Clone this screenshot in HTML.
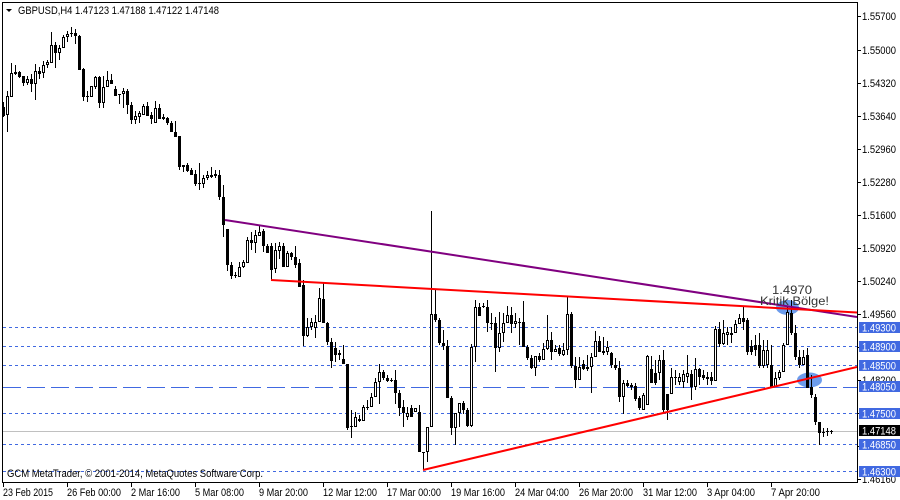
<!DOCTYPE html>
<html>
<head>
<meta charset="utf-8">
<style>
html,body{margin:0;padding:0;background:#fff;}
svg{display:block;}
text{font-family:"Liberation Sans",Arial,sans-serif;}
</style>
</head>
<body>
<svg width="900" height="500" viewBox="0 0 900 500" xmlns="http://www.w3.org/2000/svg">
<rect x="0" y="0" width="900" height="500" fill="#fff"/>
<defs><clipPath id="cl"><rect x="3" y="3" width="854" height="479"/></clipPath></defs>

<ellipse cx="787.5" cy="307.5" rx="11.5" ry="7.5" fill="#6c9cec"/>
<ellipse cx="809.5" cy="380" rx="12.5" ry="7.5" fill="#6c9cec"/>

<g stroke="#4169e1" stroke-width="1" fill="none">
<line x1="3" y1="327.5" x2="857" y2="327.5" stroke-dasharray="3,3"/>
<line x1="3" y1="346.5" x2="857" y2="346.5" stroke-dasharray="3,3"/>
<line x1="3" y1="365.5" x2="857" y2="365.5" stroke-dasharray="3,3"/>
<line x1="3" y1="387.5" x2="857" y2="387.5" stroke-dasharray="18,6"/>
<line x1="3" y1="413.5" x2="857" y2="413.5" stroke-dasharray="3,3"/>
<line x1="3" y1="444.5" x2="857" y2="444.5" stroke-dasharray="3,3"/>
<line x1="3" y1="471.5" x2="857" y2="471.5" stroke-dasharray="3,3"/>
</g>
<line x1="3" y1="431.5" x2="857" y2="431.5" stroke="#c0c0c0" stroke-width="1"/>

<g clip-path="url(#cl)" fill="none" shape-rendering="crispEdges">
<path stroke="#000" stroke-width="1" d="M3.5 102V117M7.5 91V132M11.5 63V97M15.5 65V75M19.5 71V78M23.5 76V86M27.5 76V85M31.5 74V92M35.5 64V100M39.5 67V79M43.5 61V78M47.5 60V68M51.5 32V63M55.5 42V68M59.5 45V60M63.5 35V48M67.5 31V42M71.5 27V37M75.5 29V44M79.5 35V70M83.5 68V101M87.5 91V102M91.5 86V97M95.5 76V89M99.5 76V108M103.5 76V108M107.5 71V87M111.5 74V84M115.5 86V96M119.5 94V104M123.5 88V108M127.5 89V114M131.5 102V124M135.5 111V124M139.5 111V123M143.5 104V115M147.5 102V116M151.5 112V124M155.5 101V123M159.5 104V119M163.5 114V120M167.5 117V125M171.5 121V132M175.5 121V137M179.5 136V170M183.5 165V172M187.5 163V172M191.5 168V175M195.5 170V186M199.5 163V190M203.5 175V188M207.5 171V180M211.5 167V178M215.5 170V178M219.5 170V200M223.5 185V237M227.5 229V271M231.5 262V279M235.5 272V278M239.5 262V277M243.5 260V268M247.5 237V263M251.5 232V250M255.5 230V253M259.5 226V236M263.5 229V252M267.5 244V253M271.5 243V280M275.5 243V273M279.5 242V259M283.5 243V267M287.5 251V267M291.5 252V260M295.5 246V268M299.5 259V287M303.5 280V346M307.5 318V337M311.5 318V330M315.5 315V338M319.5 288V322M323.5 282V323M327.5 322V345M331.5 338V368M335.5 342V362M339.5 350V360M343.5 345V364M347.5 364V430M351.5 410V438M355.5 412V427M359.5 415V422M363.5 405V421M367.5 400V410M371.5 393V407M375.5 378V397M379.5 364V404M383.5 370V380M387.5 375V382M391.5 378V382M395.5 370V404M399.5 390V416M403.5 400V427M407.5 407V420M411.5 405V417M415.5 408V412M419.5 405V452M423.5 452V470M427.5 427V462M431.5 211V427M435.5 290V322M439.5 318V345M443.5 330V350M447.5 340V398M451.5 396V435M455.5 413V445M459.5 403V427M463.5 401V414M467.5 408V427M471.5 344V427M475.5 300V362M479.5 303V316M483.5 303V308M487.5 300V332M491.5 313V330M495.5 317V372M499.5 312V352M503.5 313V342M507.5 306V323M511.5 307V333M515.5 313V328M519.5 318V345M523.5 301V347M527.5 345V360M531.5 355V369M535.5 356V376M539.5 353V362M543.5 343V360M547.5 315V350M551.5 332V360M555.5 345V352M559.5 345V356M563.5 343V356M567.5 296V355M571.5 312V368M575.5 357V388M579.5 357V380M583.5 360V370M587.5 355V371M591.5 353V393M595.5 331V357M599.5 336V352M603.5 337V355M607.5 341V355M611.5 352V368M615.5 358V370M619.5 361V402M623.5 380V414M627.5 380V387M631.5 383V390M635.5 383V401M639.5 396V410M643.5 393V410M647.5 355V405M651.5 356V383M655.5 360V385M659.5 355V380M663.5 350V413M667.5 394V420M671.5 368V394M675.5 370V385M679.5 373V385M683.5 370V388M687.5 355V383M691.5 370V400M695.5 358V390M699.5 368V385M703.5 370V380M707.5 372V385M711.5 372V385M715.5 326V381M719.5 322V347M723.5 320V345M727.5 327V345M731.5 327V343M735.5 320V333M739.5 314V324M743.5 306V330M747.5 318V355M751.5 340V355M755.5 335V356M759.5 333V368M763.5 340V368M767.5 340V368M771.5 345V387M775.5 372V387M779.5 370V380M783.5 343V372M787.5 306V345M791.5 300V335M795.5 325V360M799.5 350V368M803.5 350V365M807.5 348V388M811.5 375V398M815.5 394V425M819.5 422V445M823.5 428V437M827.5 428V436M831.5 430V434"/>
<path stroke="#000" stroke-width="3" d="M3.5 107V116M7.5 96V115M11.5 73V97M15.5 72V74M19.5 72V77M23.5 76V83M27.5 79V83M31.5 79V84M35.5 71V84M39.5 71V74M43.5 65V73M47.5 62V65M51.5 45V63M55.5 45V53M59.5 48V53M63.5 37V48M67.5 34V37M71.5 33V34M75.5 33V36M79.5 36V70M83.5 69V97M87.5 96V97M91.5 86V97M95.5 77V87M99.5 77V103M103.5 87V103M107.5 80V87M111.5 80V84M115.5 89V96M119.5 94V95M123.5 91V94M127.5 91V105M131.5 105V120M135.5 116V120M139.5 113V117M143.5 106V115M147.5 106V116M151.5 115V119M155.5 108V123M159.5 108V119M163.5 117V119M167.5 118V123M171.5 123V132M175.5 132V137M179.5 136V167M183.5 165V167M187.5 165V171M191.5 170V175M195.5 174V184M199.5 183V184M203.5 178V184M207.5 175V178M211.5 175V177M215.5 174V176M219.5 175V197M223.5 197V225M227.5 229V265M231.5 265V276M235.5 275V276M239.5 267V277M243.5 262V267M247.5 240V263M251.5 240V243M255.5 235V243M259.5 232V236M263.5 231V246M267.5 246V253M271.5 246V270M275.5 250V269M279.5 246V251M283.5 246V267M287.5 253V267M291.5 253V257M295.5 257V265M299.5 263V287M303.5 285V336M307.5 327V336M311.5 322V327M315.5 322V328M319.5 298V322M323.5 299V323M327.5 323V342M331.5 342V361M335.5 348V355M339.5 353V355M343.5 359V364M347.5 364V428M351.5 426V427M355.5 417V427M359.5 419V421M363.5 407V421M367.5 407V408M371.5 397V407M375.5 382V397M379.5 372V382M383.5 372V378M387.5 378V381M391.5 380V381M395.5 380V393M399.5 393V408M403.5 407V413M407.5 413V417M411.5 408V417M415.5 408V412M419.5 412V452M423.5 452V453M427.5 427V452M431.5 314V427M435.5 314V320M439.5 320V343M443.5 343V346M447.5 346V398M451.5 398V428M455.5 413V428M459.5 403V413M463.5 403V410M467.5 410V426M471.5 347V426M475.5 307V347M479.5 307V316M483.5 306V307M487.5 307V323M491.5 323V324M495.5 323V348M499.5 333V348M503.5 323V333M507.5 315V323M511.5 315V324M515.5 321V324M519.5 322V323M523.5 322V347M527.5 347V358M531.5 358V368M535.5 356V368M539.5 356V360M543.5 349V360M547.5 340V349M551.5 340V352M555.5 349V352M559.5 348V354M563.5 350V355M567.5 314V350M571.5 314V366M575.5 366V380M579.5 367V380M583.5 364V369M587.5 367V369M591.5 357V367M595.5 341V357M599.5 341V352M603.5 351V353M607.5 347V352M611.5 353V365M615.5 365V368M619.5 368V397M623.5 383V397M627.5 383V386M631.5 385V387M635.5 386V399M639.5 398V408M643.5 395V410M647.5 356V405M651.5 369V383M655.5 373V383M659.5 360V373M663.5 360V410M667.5 394V410M671.5 377V394M675.5 377V378M679.5 377V382M683.5 374V382M687.5 373V377M691.5 374V387M695.5 369V387M699.5 369V377M703.5 375V378M707.5 377V379M711.5 377V381M715.5 329V381M719.5 329V344M723.5 333V344M727.5 332V335M731.5 333V335M735.5 324V333M739.5 318V324M743.5 318V322M747.5 320V352M751.5 346V352M755.5 345V350M759.5 345V366M763.5 350V366M767.5 350V365M771.5 365V387M775.5 378V387M779.5 372V378M783.5 345V372M787.5 312V345M791.5 313V333M795.5 333V357M799.5 357V365M803.5 357V365M807.5 355V388M811.5 387V395M815.5 397V422M819.5 422V433M823.5 432V433M827.5 431V432M831.5 431V432"/>
<path stroke="#fff" stroke-width="1" d="M7.5 97V114M11.5 74V96M27.5 80V82M35.5 72V83M43.5 66V72M47.5 63V64M51.5 46V62M59.5 49V52M63.5 38V47M67.5 35V36M91.5 87V96M95.5 78V86M103.5 88V102M107.5 81V86M123.5 92V93M135.5 117V119M139.5 114V116M143.5 107V114M155.5 109V122M203.5 179V183M207.5 176V177M239.5 268V276M243.5 263V266M247.5 241V262M255.5 236V242M259.5 233V235M275.5 251V268M279.5 247V250M287.5 254V266M307.5 328V335M311.5 323V326M315.5 323V327M319.5 299V321M355.5 418V426M363.5 408V420M371.5 398V406M375.5 383V396M379.5 373V381M407.5 414V416M415.5 409V411M427.5 428V451M431.5 315V426M455.5 414V427M459.5 404V412M471.5 348V425M475.5 308V346M499.5 334V347M503.5 324V332M507.5 316V322M515.5 322V323M535.5 357V367M543.5 350V359M547.5 341V348M555.5 350V351M563.5 351V354M567.5 315V349M579.5 368V379M591.5 358V366M595.5 342V356M607.5 348V351M623.5 384V396M643.5 396V409M647.5 357V404M659.5 361V372M671.5 378V393M679.5 378V381M683.5 375V381M687.5 374V376M695.5 370V386M715.5 330V380M723.5 334V343M727.5 333V334M735.5 325V332M739.5 319V323M763.5 351V365M767.5 351V364M775.5 379V386M779.5 373V377M783.5 346V371M787.5 313V344M803.5 358V364"/>
</g>

<g clip-path="url(#cl)" fill="none" stroke-width="2">
<line x1="225" y1="220" x2="857" y2="317" stroke="#800080"/>
<line x1="271" y1="280" x2="857" y2="312.5" stroke="#ff0000"/>
<line x1="423" y1="470" x2="857" y2="367" stroke="#ff0000"/>
</g>

<text x="772" y="294" font-size="12" fill="#333" textLength="40" lengthAdjust="spacingAndGlyphs">1.4970</text>
<text x="760" y="305" font-size="12" fill="#333" textLength="69" lengthAdjust="spacingAndGlyphs">Kritik Bölge!</text>

<rect x="2.5" y="2.5" width="855" height="480" fill="none" stroke="#000" stroke-width="1"/>

<polygon points="6,9 12,9 9,12" fill="#000"/>
<text x="18" y="14" font-size="11" fill="#000" textLength="201" lengthAdjust="spacingAndGlyphs">GBPUSD,H4  1.47123 1.47188 1.47122 1.47148</text>

<text x="7" y="477" font-size="11" fill="#000" textLength="256" lengthAdjust="spacingAndGlyphs">GCM MetaTrader, © 2001-2014, MetaQuotes Software Corp.</text>

<g fill="#000">
<rect x="857" y="16" width="4" height="1"/><rect x="857" y="50" width="4" height="1"/><rect x="857" y="83" width="4" height="1"/>
<rect x="857" y="116" width="4" height="1"/><rect x="857" y="149" width="4" height="1"/><rect x="857" y="182" width="4" height="1"/>
<rect x="857" y="215" width="4" height="1"/><rect x="857" y="248" width="4" height="1"/><rect x="857" y="281" width="4" height="1"/>
<rect x="857" y="314" width="4" height="1"/><rect x="857" y="347" width="4" height="1"/><rect x="857" y="380" width="4" height="1"/>
<rect x="857" y="413" width="4" height="1"/><rect x="857" y="446" width="4" height="1"/><rect x="857" y="479" width="4" height="1"/>
</g>
<g font-size="11" fill="#000">
<text x="862" y="20" textLength="34" lengthAdjust="spacingAndGlyphs">1.55700</text>
<text x="862" y="54" textLength="34" lengthAdjust="spacingAndGlyphs">1.55000</text>
<text x="862" y="87" textLength="34" lengthAdjust="spacingAndGlyphs">1.54320</text>
<text x="862" y="120" textLength="34" lengthAdjust="spacingAndGlyphs">1.53640</text>
<text x="862" y="153" textLength="34" lengthAdjust="spacingAndGlyphs">1.52960</text>
<text x="862" y="186" textLength="34" lengthAdjust="spacingAndGlyphs">1.52280</text>
<text x="862" y="219" textLength="34" lengthAdjust="spacingAndGlyphs">1.51600</text>
<text x="862" y="252" textLength="34" lengthAdjust="spacingAndGlyphs">1.50920</text>
<text x="862" y="285" textLength="34" lengthAdjust="spacingAndGlyphs">1.50240</text>
<text x="862" y="318" textLength="34" lengthAdjust="spacingAndGlyphs">1.49560</text>
<text x="862" y="351" textLength="34" lengthAdjust="spacingAndGlyphs">1.48880</text>
<text x="862" y="384" textLength="34" lengthAdjust="spacingAndGlyphs">1.48200</text>
<text x="862" y="417" textLength="34" lengthAdjust="spacingAndGlyphs">1.47520</text>
<text x="862" y="450" textLength="34" lengthAdjust="spacingAndGlyphs">1.46840</text>
<text x="862" y="483" textLength="34" lengthAdjust="spacingAndGlyphs">1.46160</text>
</g>
<g>
<rect x="859" y="322" width="41" height="11" fill="#4169e1"/>
<rect x="859" y="341" width="41" height="11" fill="#4169e1"/>
<rect x="859" y="360" width="41" height="11" fill="#4169e1"/>
<rect x="859" y="381" width="41" height="11" fill="#4169e1"/>
<rect x="859" y="408" width="41" height="11" fill="#4169e1"/>
<rect x="859" y="425" width="41" height="11" fill="#000"/>
<rect x="859" y="439" width="41" height="11" fill="#4169e1"/>
<rect x="859" y="466" width="41" height="11" fill="#4169e1"/>
</g>
<g font-size="11" fill="#fff">
<text x="862" y="331.5" textLength="34" lengthAdjust="spacingAndGlyphs">1.49300</text>
<text x="862" y="350.5" textLength="34" lengthAdjust="spacingAndGlyphs">1.48900</text>
<text x="862" y="369.5" textLength="34" lengthAdjust="spacingAndGlyphs">1.48500</text>
<text x="862" y="390.5" textLength="34" lengthAdjust="spacingAndGlyphs">1.48050</text>
<text x="862" y="417.5" textLength="34" lengthAdjust="spacingAndGlyphs">1.47500</text>
<text x="862" y="434.5" textLength="34" lengthAdjust="spacingAndGlyphs">1.47148</text>
<text x="862" y="448.5" textLength="34" lengthAdjust="spacingAndGlyphs">1.46850</text>
<text x="862" y="475.5" textLength="34" lengthAdjust="spacingAndGlyphs">1.46300</text>
</g>

<g fill="#000">
<rect x="3" y="482" width="1" height="5"/><rect x="67" y="482" width="1" height="5"/><rect x="131" y="482" width="1" height="5"/>
<rect x="195" y="482" width="1" height="5"/><rect x="259" y="482" width="1" height="5"/><rect x="323" y="482" width="1" height="5"/>
<rect x="387" y="482" width="1" height="5"/><rect x="451" y="482" width="1" height="5"/><rect x="515" y="482" width="1" height="5"/>
<rect x="579" y="482" width="1" height="5"/><rect x="643" y="482" width="1" height="5"/><rect x="707" y="482" width="1" height="5"/>
<rect x="771" y="482" width="1" height="5"/>
</g>
<g font-size="11" fill="#000">
<text x="3" y="496" textLength="50" lengthAdjust="spacingAndGlyphs">23 Feb 2015</text>
<text x="67" y="496" textLength="54" lengthAdjust="spacingAndGlyphs">26 Feb 00:00</text>
<text x="131" y="496" textLength="49" lengthAdjust="spacingAndGlyphs">2 Mar 16:00</text>
<text x="195" y="496" textLength="49" lengthAdjust="spacingAndGlyphs">5 Mar 08:00</text>
<text x="259" y="496" textLength="49" lengthAdjust="spacingAndGlyphs">9 Mar 20:00</text>
<text x="323" y="496" textLength="54" lengthAdjust="spacingAndGlyphs">12 Mar 12:00</text>
<text x="387" y="496" textLength="54" lengthAdjust="spacingAndGlyphs">17 Mar 00:00</text>
<text x="451" y="496" textLength="54" lengthAdjust="spacingAndGlyphs">19 Mar 16:00</text>
<text x="515" y="496" textLength="54" lengthAdjust="spacingAndGlyphs">24 Mar 04:00</text>
<text x="579" y="496" textLength="54" lengthAdjust="spacingAndGlyphs">26 Mar 20:00</text>
<text x="643" y="496" textLength="54" lengthAdjust="spacingAndGlyphs">31 Mar 12:00</text>
<text x="707" y="496" textLength="48" lengthAdjust="spacingAndGlyphs">3 Apr 04:00</text>
<text x="771" y="496" textLength="49" lengthAdjust="spacingAndGlyphs">7 Apr 20:00</text>
</g>
</svg>
</body>
</html>
